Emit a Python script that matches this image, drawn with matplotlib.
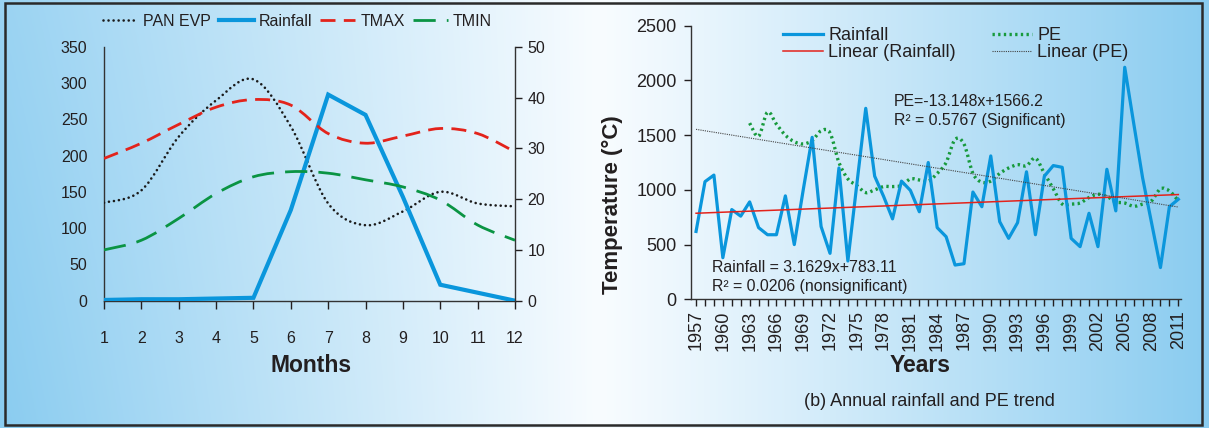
import numpy as np
import matplotlib
matplotlib.use("Agg")
import matplotlib.pyplot as plt
from matplotlib.path import Path
from matplotlib.patches import PathPatch, Rectangle
from matplotlib.lines import Line2D

plt.rcParams['font.family'] = ['Liberation Sans', 'DejaVu Sans']

# ---------------- data: panel (a) monthly ----------------
months = [1, 2, 3, 4, 5, 6, 7, 8, 9, 10, 11, 12]
pan_evp = [135, 152, 226, 276, 305, 240, 134, 104, 123, 150, 134, 130]
rain_month = [1, 2, 2, 3, 4, 125, 284, 256, 143, 22, 11, 0]
tmax = [28.0, 31.0, 34.7, 38.1, 39.6, 38.5, 32.9, 31.0, 32.4, 33.9, 32.9, 29.3]
tmin = [10.0, 11.9, 16.2, 21.1, 24.4, 25.4, 25.1, 23.8, 22.4, 19.8, 14.9, 11.9]

# ---------------- data: panel (b) annual ----------------
years = list(range(1957, 2012))
rain_year = [620, 1075, 1135, 380, 820, 760, 890, 655, 590, 590,
             945, 500, 1000, 1480, 665, 420, 1200, 350, 1050, 1745,
             1125, 940, 735, 1080, 995, 800, 1250, 655, 572, 313,
             325, 980, 846, 1310, 709, 557, 700, 1165, 590, 1125,
             1222, 1206, 557, 481, 786, 481, 1188, 808, 2120, 1610,
             1110, 700, 290, 846, 914]
pe_years = list(range(1963, 2012))
pe = [1610, 1490, 1710, 1600, 1500, 1440, 1420, 1450, 1540, 1520,
      1250, 1100, 1040, 975, 1000, 1030, 1030, 1040, 1100, 1090,
      1080, 1150, 1250, 1460, 1420, 1150, 1070, 1080, 1150, 1200,
      1230, 1220, 1290, 1150, 1010, 870, 870, 880, 930, 960,
      940, 890, 880, 850, 870, 900, 1010, 990, 900]
rain_slope, rain_icpt = 3.1629, 783.11
pe_slope, pe_icpt = -13.148, 1566.2

TXT = '#231f20'
BLUE = '#0a96dc'
RED = '#e3231b'
GREEN = '#0a9443'
PEGREEN = '#179a3c'
DOT = (0, (0.01, 1.9))


def smooth_path(xs, ys):
    xs = np.asarray(xs, float)
    ys = np.asarray(ys, float)
    n = len(xs)
    verts = [(xs[0], ys[0])]
    codes = [Path.MOVETO]
    for i in range(n - 1):
        a = i - 1 if i > 0 else i
        d = i + 2 if i + 2 < n else i + 1
        c1 = (xs[i] + (xs[i + 1] - xs[a]) / 6, ys[i] + (ys[i + 1] - ys[a]) / 6)
        c2 = (xs[i + 1] - (xs[d] - xs[i]) / 6, ys[i + 1] - (ys[d] - ys[i]) / 6)
        verts += [c1, c2, (xs[i + 1], ys[i + 1])]
        codes += [Path.CURVE4] * 3
    return Path(verts, codes)


W, H = 1209, 428
fig = plt.figure(figsize=(W / 100, H / 100), dpi=100)

# background gradient
bg = fig.add_axes([0, 0, 1, 1], zorder=-10)
gx = np.linspace(0, 1, 600)
gy = np.linspace(0, 1, 200)
X, Y = np.meshgrid(gx, gy)
split = 598 / W
t = np.where(X < split, (1 - X / split) * 0.85 + (Y) * 0.15 * (1 - X / split),
             ((X - split) / (1 - split)) ** 1.1)
t = np.clip(t, 0, 1)
blue = np.array([138, 204, 240]) / 255.0
white = np.array([248, 252, 255]) / 255.0
img = white[None, None, :] * (1 - t[..., None]) + blue[None, None, :] * t[..., None]
bg.imshow(img, aspect='auto', extent=[0, 1, 0, 1], origin='upper')
bg.set_xlim(0, 1)
bg.set_ylim(0, 1)
bg.axis('off')
bg.add_patch(Rectangle((5 / W, 1 - 425 / H), 1197 / W, 422 / H, fill=False,
                       edgecolor='#2a2a2a', lw=1.8, transform=bg.transAxes))


def fx(px):
    return px / W


def fy(py):
    return 1 - py / H


# ---------------- panel (a) ----------------
axL = fig.add_axes([fx(104), fy(300.7), (515 - 104) / W, (300.7 - 46.7) / H])
axL.set_facecolor('none')
axR = axL.twinx()
axR.set_facecolor('none')

axL.set_xlim(1, 12)
axL.set_ylim(0, 350)
axR.set_ylim(0, 50)

pp = PathPatch(smooth_path(months, pan_evp), fill=False, edgecolor='#1a1a1a',
               lw=1.9, linestyle=DOT, capstyle='round', zorder=3)
axL.add_patch(pp)
axL.plot(months, rain_month, color=BLUE, lw=3.0, zorder=4, solid_joinstyle='miter')
p1 = PathPatch(smooth_path(months, tmax), fill=False, edgecolor=RED, lw=2.0,
               linestyle=(0, (5.4, 3.0)), zorder=3)
axR.add_patch(p1)
p2 = PathPatch(smooth_path(months, tmin), fill=False, edgecolor=GREEN, lw=2.0,
               linestyle=(0, (8.0, 4.0)), zorder=3)
axR.add_patch(p2)

axL.set_xticks(months)
axL.set_yticks(np.arange(0, 351, 50))
axR.set_yticks(np.arange(0, 51, 10))
for sp in ['top']:
    axL.spines[sp].set_visible(False)
    axR.spines[sp].set_visible(False)
axR.spines['left'].set_visible(False)
axR.spines['bottom'].set_visible(False)
for s in ['left', 'bottom']:
    axL.spines[s].set_color('#333333')
    axL.spines[s].set_linewidth(1.0)
axL.spines['right'].set_visible(False)
axR.spines['right'].set_color('#333333')
axR.spines['right'].set_linewidth(1.0)
axL.tick_params(axis='y', length=0, pad=12, labelsize=11.5, colors=TXT)
axL.tick_params(axis='x', length=6, width=1, direction='out', pad=16,
                labelsize=11.5, colors=TXT)
axR.tick_params(axis='y', length=5, width=1, direction='out', pad=4,
                labelsize=11.5, colors=TXT)

hL = [Line2D([], [], color='#1a1a1a', lw=1.9, linestyle=DOT,
             dash_capstyle='round'),
      Line2D([], [], color=BLUE, lw=3.0),
      Line2D([], [], color=RED, lw=2.0, linestyle=(0, (5.4, 3.0))),
      Line2D([], [], color=GREEN, lw=2.0, linestyle=(0, (8.0, 4.0)))]
legL = fig.legend(hL, ['PAN EVP', 'Rainfall', 'TMAX', 'TMIN'], ncol=4,
                  loc='upper left', bbox_to_anchor=(fx(103), fy(14)),
                  frameon=False, fontsize=11.5, handlelength=2.2,
                  handletextpad=0.3, columnspacing=0.5, borderpad=0,
                  borderaxespad=0)
for t_ in legL.get_texts():
    t_.set_color(TXT)

fig.text(fx(311), fy(366), 'Months', ha='center', va='center',
         fontsize=16.5, fontweight='bold', color=TXT)

# ---------------- panel (b) ----------------
ax2 = fig.add_axes([fx(690.7), fy(299.3), (1181 - 690.7) / W, (299.3 - 25.7) / H])
ax2.set_facecolor('none')
ax2.set_xlim(1956.4, 2011.3)
ax2.set_ylim(0, 2500)

ax2.plot(years, rain_year, color=BLUE, lw=2.3, zorder=4)
pe_patch = PathPatch(smooth_path(pe_years, pe), fill=False, edgecolor=PEGREEN,
                     lw=2.4, linestyle=(0, (0.7, 1.0)), zorder=3)
ax2.add_patch(pe_patch)
idx = np.arange(1, len(years) + 1)
ax2.plot([years[0], years[-1]],
         [rain_slope * idx[0] + rain_icpt, rain_slope * idx[-1] + rain_icpt],
         color=RED, lw=1.1, zorder=5)
ax2.plot([years[0], years[-1]],
         [pe_slope * idx[0] + pe_icpt, pe_slope * idx[-1] + pe_icpt],
         color='#444444', lw=0.8, linestyle=(0, (1, 1)), zorder=5)

ax2.set_xticks(years)
ax2.set_xticklabels([str(y) if (y - 1957) % 3 == 0 else '' for y in years],
                    rotation=90)
ax2.set_yticks(np.arange(0, 2501, 500))
for sp in ['top', 'right']:
    ax2.spines[sp].set_visible(False)
for sp in ['left', 'bottom']:
    ax2.spines[sp].set_color('#333333')
    ax2.spines[sp].set_linewidth(1.0)
ax2.tick_params(axis='x', length=5, width=1, direction='out', pad=3,
                labelsize=13, colors=TXT)
ax2.tick_params(axis='y', length=5, width=1, direction='out', pad=5,
                labelsize=13, colors=TXT)

h2 = [Line2D([], [], color=BLUE, lw=2.3),
      Line2D([], [], color=RED, lw=1.1),
      Line2D([], [], color=PEGREEN, lw=2.4, linestyle=(0, (0.7, 1.0))),
      Line2D([], [], color='#444444', lw=0.8, linestyle=(0, (1, 1)))]
leg2 = fig.legend(h2, ['Rainfall', 'Linear (Rainfall)', 'PE', 'Linear (PE)'],
                  ncol=2, loc='upper left', bbox_to_anchor=(fx(783), fy(27)),
                  frameon=False, fontsize=13, handlelength=2.2,
                  handletextpad=0.3, columnspacing=2.0, borderpad=0,
                  borderaxespad=0, labelspacing=0.0)
for t_ in leg2.get_texts():
    t_.set_color(TXT)

fig.text(fx(894), fy(102), 'PE=-13.148x+1566.2', ha='left', va='center',
         fontsize=11.4, color=TXT)
fig.text(fx(894), fy(120), 'R² = 0.5767 (Significant)', ha='left', va='center',
         fontsize=11.4, color=TXT)
fig.text(fx(712), fy(268), 'Rainfall = 3.1629x+783.11', ha='left', va='center',
         fontsize=11.4, color=TXT)
fig.text(fx(712), fy(287), 'R² = 0.0206 (nonsignificant)', ha='left',
         va='center', fontsize=11.4, color=TXT)

fig.text(fx(612), fy(205), 'Temperature (°C)', rotation=90, ha='center',
         va='center', fontsize=16, fontweight='bold', color=TXT)
fig.text(fx(920), fy(366), 'Years', ha='center', va='center', fontsize=16.5,
         fontweight='bold', color=TXT)
fig.text(fx(929), fy(401), '(b) Annual rainfall and PE trend', ha='center',
         va='center', fontsize=13, color=TXT)

fig.savefig('out.png', dpi=100)
